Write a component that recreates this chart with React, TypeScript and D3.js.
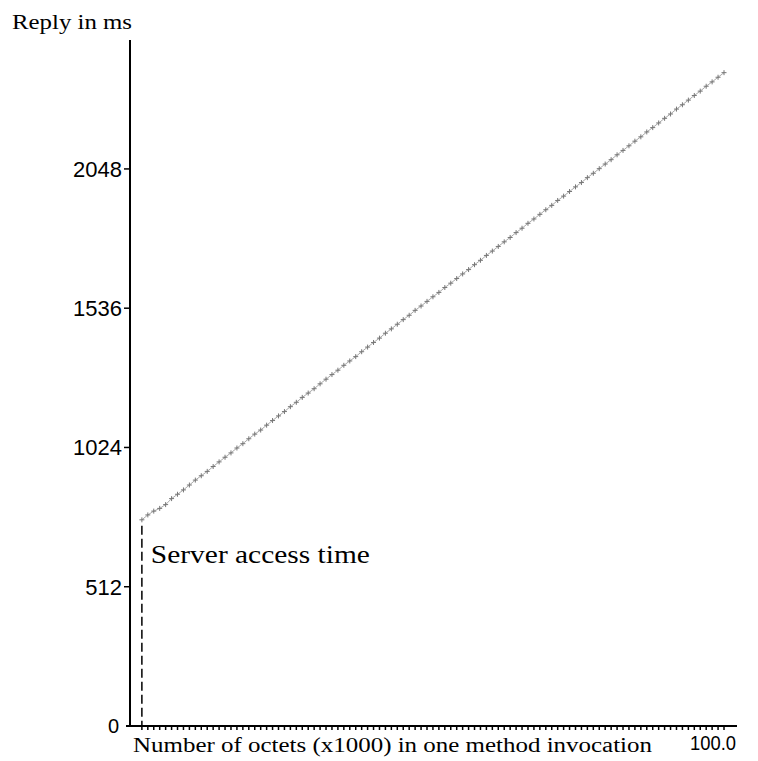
import React from "react";
import * as d3 from "d3";

// reply time (ms) against message size (x1000 octets)
const sizes = [
  2, 3, 4, 5, 6, 7, 8, 9, 10, 11, 12, 13, 14, 15, 16, 17, 18, 19, 20, 21, 22, 23, 24, 25, 26, 27, 28, 29, 30,
  31, 32, 33, 34, 35, 36, 37, 38, 39, 40, 41, 42, 43, 44, 45, 46, 47, 48, 49, 50, 51, 52, 53, 54, 55, 56, 57,
  58, 59, 60, 61, 62, 63, 64, 65, 66, 67, 68, 69, 70, 71, 72, 73, 74, 75, 76, 77, 78, 79, 80, 81, 82, 83, 84,
  85, 86, 87, 88, 89, 90, 91, 92, 93, 94, 95, 96, 97, 98, 99, 100,
];
const replies = [
  758, 776, 790, 800, 814, 836, 852, 868, 886, 904, 920, 936, 954, 971, 988, 1004, 1022, 1038, 1056, 1073,
  1088, 1106, 1123, 1140, 1156, 1174, 1190, 1208, 1224, 1240, 1258, 1275, 1292, 1308, 1326, 1342, 1358, 1376,
  1393, 1410, 1426, 1444, 1460, 1477, 1494, 1510, 1528, 1544, 1561, 1578, 1594, 1612, 1628, 1645, 1662, 1678,
  1696, 1712, 1730, 1746, 1763, 1780, 1796, 1814, 1830, 1848, 1864, 1881, 1898, 1914, 1932, 1948, 1965, 1982,
  1998, 2016, 2032, 2049, 2066, 2082, 2100, 2116, 2133, 2150, 2166, 2184, 2200, 2217, 2234, 2250, 2268, 2284,
  2301, 2318, 2334, 2352, 2368, 2385, 2402,
];
const yTicks = [512, 1024, 1536, 2048];
const serverAccess = 758;

const W = 758;
const H = 761;

export default function App() {
  const x = d3.scaleLinear().domain([0, 100]).range([130, 724]);
  const y = d3.scaleLinear().domain([0, 2522]).range([726, 40]);

  const pts: [number, number][] = sizes.map((s, i) => [x(s), y(replies[i])]);
  const line = d3.line();

  const serif = "'Liberation Serif', 'DejaVu Serif', serif";
  const sans = "'Liberation Sans', Arial, sans-serif";

  return (
    <svg
      width={W}
      height={H}
      style={{ position: "absolute", left: 0, top: 0, background: "#fff" }}
    >
      {/* title */}
      <text x={12} y={29} fontFamily={serif} fontSize={21} textLength={120} lengthAdjust="spacingAndGlyphs">
        Reply in ms
      </text>

      {/* y axis */}
      <line x1={x(0)} x2={x(0)} y1={y(2522)} y2={y(0)} stroke="#000" strokeWidth={2} />
      {yTicks.map((t) => (
        <g key={t}>
          <line x1={x(0) - 6} x2={x(0)} y1={y(t)} y2={y(t)} stroke="#000" strokeWidth={1.5} />
          <text x={x(0) - 8} y={y(t) + 8} textAnchor="end" fontFamily={sans} fontSize={22}>
            {t}
          </text>
        </g>
      ))}
      <text x={x(0) - 11} y={y(0) + 7} textAnchor="end" fontFamily={sans} fontSize={20}>
        0
      </text>

      {/* x axis */}
      <line x1={x(0) - 4} x2={737} y1={y(0)} y2={y(0)} stroke="#000" strokeWidth={2} />
      {sizes.map((s) => (
        <line key={s} x1={x(s)} x2={x(s)} y1={y(0)} y2={y(0) + 4} stroke="#000" strokeWidth={1.5} />
      ))}
      <text
        x={133}
        y={752}
        fontFamily={serif}
        fontSize={20}
        textLength={519}
        lengthAdjust="spacingAndGlyphs"
      >
        Number of octets (x1000) in one method invocation
      </text>
      <text x={690} y={750} fontFamily={sans} fontSize={20} textLength={46} lengthAdjust="spacingAndGlyphs">
        100.0
      </text>

      {/* server access time marker */}
      <line
        x1={x(sizes[0])}
        x2={x(sizes[0])}
        y1={y(serverAccess) + 6}
        y2={y(0)}
        stroke="#000"
        strokeWidth={1.5}
        strokeDasharray="9 4"
      />
      <text
        x={x(sizes[0]) + 9}
        y={563}
        fontFamily={serif}
        fontSize={25}
        textLength={219}
        lengthAdjust="spacingAndGlyphs"
      >
        Server access time
      </text>

      {/* measured series */}
      <path d={line(pts) ?? ""} fill="none" stroke="#aaa" strokeWidth={1} />
      {pts.map(([px, py], i) => (
        <path
          key={i}
          d={`M${px - 2.5},${py}H${px + 2.5}M${px},${py - 2.5}V${py + 2.5}`}
          stroke="#777"
          strokeWidth={1}
          fill="none"
        />
      ))}
    </svg>
  );
}
